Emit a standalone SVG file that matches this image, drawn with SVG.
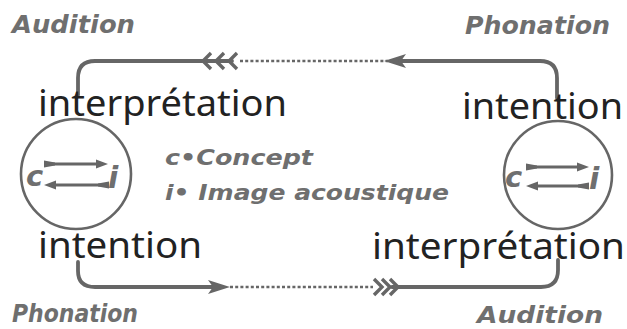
<svg xmlns="http://www.w3.org/2000/svg" width="627" height="329" viewBox="0 0 627 329">
  <defs>
    <style>
      .big { font-family: "Noto Sans", "Open Sans", sans-serif; font-size: 36px; fill: #222222; }
      .lbl { font-family: "DejaVu Sans", sans-serif; font-weight: bold; font-style: italic; fill: #6f6f6f; }
      .wire { fill: none; stroke: #666666; stroke-width: 3.8; stroke-linecap: round; }
      .dots { fill: none; stroke: #666666; stroke-width: 2.4; stroke-dasharray: 3 2.2; }
      .chev { fill: none; stroke: #666666; stroke-width: 3.4; stroke-linejoin: miter; }
      .head { fill: #666666; }
      .ring { fill: none; stroke: #666666; stroke-width: 2.6; }
      .inner { fill: none; stroke: #666666; stroke-width: 2.8; }
    </style>
  </defs>

  <!-- corner labels -->
  <g id="labels">
    <text class="lbl" x="12" y="33" font-size="25" textLength="123" lengthAdjust="spacingAndGlyphs">Audition</text>
    <text class="lbl" x="465" y="34" font-size="25" textLength="145" lengthAdjust="spacingAndGlyphs">Phonation</text>
    <text class="lbl" x="12" y="322" font-size="24" textLength="126" lengthAdjust="spacingAndGlyphs">Phonation</text>
    <text class="lbl" x="477" y="323" font-size="23" textLength="126" lengthAdjust="spacingAndGlyphs">Audition</text>
  </g>

  <!-- connectors -->
  <g id="connectors">
    <!-- upper path: right speaker to left speaker -->
    <path class="wire" d="M78,95 V78 Q78,61 95,61 H232"/>
    <path class="chev" d="M211,53 L203,61 L211,69 M224,53 L216,61 L224,69 M237,53 L229,61 L237,69"/>
    <path class="dots" d="M240,61 H388"/>
    <path class="head" d="M384,61 L406,54 L401,61 L406,68 Z"/>
    <path class="wire" d="M400,61 H540 Q557,61 557,78 V98"/>

    <!-- lower path: left speaker to right speaker -->
    <path class="wire" d="M78,262 V271 Q78,287 95,287 H216"/>
    <path class="head" d="M230,287 L208,280 L213,287 L208,294 Z"/>
    <path class="dots" d="M230,287 H373"/>
    <path class="chev" d="M374,279 L382,287 L374,295 M382,279 L390,287 L382,295 M390,279 L398,287 L390,295"/>
    <path class="wire" d="M392,287 H541 Q558,287 558,270 V260"/>
  </g>

  <!-- left speaker -->
  <g id="speaker-left">
    <circle class="ring" cx="76" cy="174" r="55"/>
    <text class="lbl" x="26" y="186" font-size="29">c</text>
    <text class="lbl" x="108" y="188" font-size="30">i</text>
    <path class="inner" d="M46,164 H103"/>
    <path class="head" d="M108,164 L96,159.5 L96,168.5 Z"/>
    <path class="head" d="M44,160.5 L55,162.5 L55,165.5 L44,167.5 Z"/>
    <path class="inner" d="M49,185 H106"/>
    <path class="head" d="M44,185 L56,180.5 L56,189.5 Z"/>
    <path class="head" d="M109,181.5 L98,183.5 L98,186.5 L109,188.5 Z"/>
  </g>

  <!-- right speaker -->
  <g id="speaker-right">
    <circle class="ring" cx="558" cy="175" r="54"/>
    <text class="lbl" x="505" y="187" font-size="29">c</text>
    <text class="lbl" x="589" y="189" font-size="30">i</text>
    <path class="inner" d="M528,167 H584"/>
    <path class="head" d="M589,167 L577,162.5 L577,171.5 Z"/>
    <path class="head" d="M526,163.5 L537,165.5 L537,168.5 L526,170.5 Z"/>
    <path class="inner" d="M531,186 H586"/>
    <path class="head" d="M526,186 L538,181.5 L538,190.5 Z"/>
    <path class="head" d="M589,182.5 L578,184.5 L578,187.5 L589,189.5 Z"/>
  </g>

  <!-- key -->
  <g id="legend">
    <text class="lbl" x="165" y="165" font-size="22" textLength="148" lengthAdjust="spacingAndGlyphs">c•Concept</text>
    <text class="lbl" x="165" y="200" font-size="22" textLength="284" lengthAdjust="spacingAndGlyphs">i• Image acoustique</text>
  </g>

  <!-- process words -->
  <g id="words">
    <text class="big" x="38" y="116" textLength="249" lengthAdjust="spacingAndGlyphs">interprétation</text>
    <text class="big" x="462" y="119" textLength="161" lengthAdjust="spacingAndGlyphs">intention</text>
    <text class="big" x="38" y="258" textLength="164" lengthAdjust="spacingAndGlyphs">intention</text>
    <text class="big" x="372" y="259" textLength="253" lengthAdjust="spacingAndGlyphs">interprétation</text>
  </g>
</svg>
